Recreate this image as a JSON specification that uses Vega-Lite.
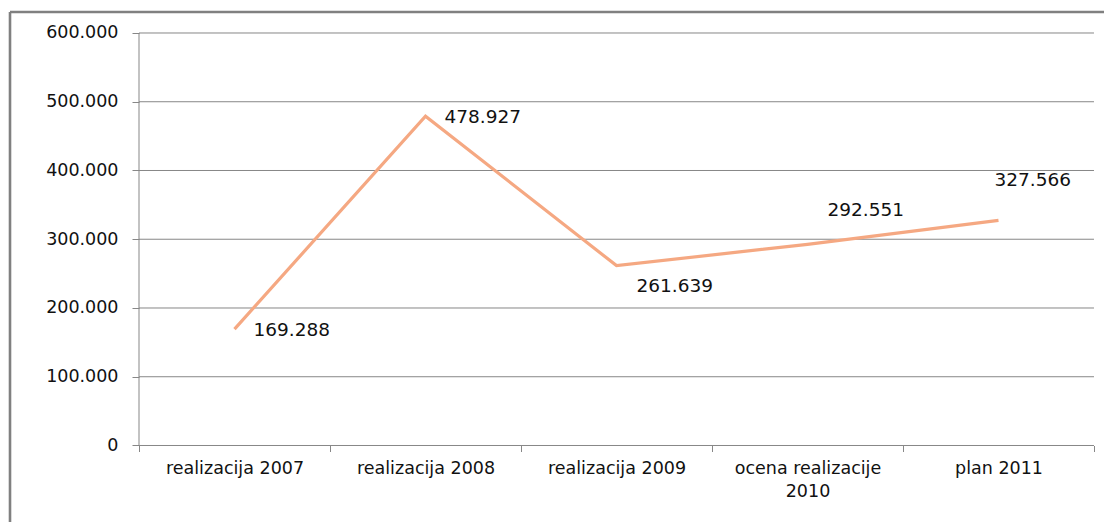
{
  "$schema": "https://vega.github.io/schema/vega-lite/v6.json",
  "width": 1094,
  "height": 510,
  "autosize": {"type": "none"},
  "padding": {"left": 10, "top": 12, "right": 0, "bottom": 0},
  "background": "white",
  "config": {
    "view": {"stroke": null},
    "font": "DejaVu Sans",
    "locale": {"number": {"decimal": ",", "thousands": ".", "grouping": [3], "currency": ["", ""]}}
  },
  "datasets": {
    "main": [
      {"kategorija": "realizacija 2007", "pos": 1, "vrednost": 169288},
      {"kategorija": "realizacija 2008", "pos": 2, "vrednost": 478927},
      {"kategorija": "realizacija 2009", "pos": 3, "vrednost": 261639},
      {"kategorija": "ocena realizacije 2010", "pos": 4, "vrednost": 292551},
      {"kategorija": "plan 2011", "pos": 5, "vrednost": 327566}
    ],
    "grid": [
      {"v": 0}, {"v": 100000}, {"v": 200000}, {"v": 300000}, {"v": 400000}, {"v": 500000}, {"v": 600000}
    ],
    "one": [{}]
  },
  "layer": [
    {
      "data": {"name": "grid"},
      "mark": {"type": "rule", "color": "#878787", "strokeWidth": 1},
      "encoding": {
        "x": {"datum": 0.5, "type": "quantitative", "title": null, "scale": {"domain": [-0.1754, 5.5524], "nice": false, "zero": false}},
        "x2": {"datum": 5.5},
        "y": {"field": "v", "type": "quantitative", "title": null, "scale": {"domain": [-111273, 630545], "nice": false, "zero": false}}
      }
    },
    {
      "data": {"name": "one"},
      "mark": {"type": "rule", "color": "#878787", "strokeWidth": 1},
      "encoding": {
        "x": {"datum": 0.5, "type": "quantitative", "title": null, "scale": {"domain": [-0.1754, 5.5524], "nice": false, "zero": false}},
        "y": {"datum": 0, "type": "quantitative", "title": null, "scale": {"domain": [-111273, 630545], "nice": false, "zero": false}},
        "y2": {"datum": 600000}
      }
    },
    {
      "data": {"name": "one"},
      "mark": {"type": "rule", "color": "#808080", "strokeWidth": 2.6},
      "encoding": {
        "x": {"datum": -0.1754, "type": "quantitative", "title": null, "scale": {"domain": [-0.1754, 5.5524], "nice": false, "zero": false}},
        "y": {"datum": -111273, "type": "quantitative", "title": null, "scale": {"domain": [-111273, 630545], "nice": false, "zero": false}},
        "y2": {"datum": 630545}
      }
    },
    {
      "data": {"name": "one"},
      "mark": {"type": "rule", "color": "#808080", "strokeWidth": 2.6},
      "encoding": {
        "x": {"datum": -0.1754, "type": "quantitative", "title": null, "scale": {"domain": [-0.1754, 5.5524], "nice": false, "zero": false}},
        "x2": {"datum": 5.5524},
        "y": {"datum": 630545, "type": "quantitative", "title": null, "scale": {"domain": [-111273, 630545], "nice": false, "zero": false}}
      }
    },
    {
      "data": {"name": "main"},
      "mark": {"type": "line", "color": "#F5A882", "strokeWidth": 3.2},
      "encoding": {
        "x": {
          "field": "pos", "type": "quantitative", "title": null,
          "scale": {"domain": [-0.1754, 5.5524], "nice": false, "zero": false},
          "axis": {
            "values": [0.5, 1, 1.5, 2, 2.5, 3, 3.5, 4, 4.5, 5, 5.5],
            "offset": -76.5,
            "domain": false,
            "grid": false,
            "tickSize": 6,
            "tickColor": "#878787",
            "tickOpacity": {"condition": {"test": "datum.value % 1 == 0", "value": 0}, "value": 1},
            "labelExpr": "datum.value == 1 ? 'realizacija 2007' : datum.value == 2 ? 'realizacija 2008' : datum.value == 3 ? 'realizacija 2009' : datum.value == 4 ? ['ocena realizacije', '2010'] : datum.value == 5 ? 'plan 2011' : ''",
            "labelFont": "DejaVu Sans",
            "labelFontSize": 17.5,
            "labelColor": "#111111",
            "labelPadding": 8,
            "labelLineHeight": 23,
            "labelOverlap": false,
            "labelFlush": false,
            "labelBound": false,
            "title": null
          }
        },
        "y": {
          "field": "vrednost", "type": "quantitative", "title": null,
          "scale": {"domain": [-111273, 630545], "nice": false, "zero": false},
          "axis": {
            "values": [0, 100000, 200000, 300000, 400000, 500000, 600000],
            "labelExpr": "replace(format(datum.value, ','), ',', '.')",
            "offset": -129,
            "domain": false,
            "grid": false,
            "tickSize": 7,
            "tickColor": "#878787",
            "labelFont": "DejaVu Sans",
            "labelFontSize": 17.5,
            "labelColor": "#111111",
            "labelPadding": 14,
            "labelOverlap": false,
            "labelFlush": false,
            "labelBound": false,
            "title": null
          }
        }
      }
    },
    {
      "data": {"name": "main"},
      "transform": [{"filter": "datum.pos <= 2"}],
      "mark": {"type": "text", "align": "left", "baseline": "middle", "dx": 19, "dy": 1, "fontSize": 18.5, "color": "#111111"},
      "encoding": {
        "x": {"field": "pos", "type": "quantitative", "title": null, "scale": {"domain": [-0.1754, 5.5524], "nice": false, "zero": false}},
        "y": {"field": "vrednost", "type": "quantitative", "title": null, "scale": {"domain": [-111273, 630545], "nice": false, "zero": false}},
        "text": {"field": "vrednost", "type": "quantitative", "format": ","}
      }
    },
    {
      "data": {"name": "main"},
      "transform": [{"filter": "datum.pos == 3"}],
      "mark": {"type": "text", "align": "left", "baseline": "middle", "dx": 20, "dy": 20, "fontSize": 18.5, "color": "#111111"},
      "encoding": {
        "x": {"field": "pos", "type": "quantitative", "title": null, "scale": {"domain": [-0.1754, 5.5524], "nice": false, "zero": false}},
        "y": {"field": "vrednost", "type": "quantitative", "title": null, "scale": {"domain": [-111273, 630545], "nice": false, "zero": false}},
        "text": {"field": "vrednost", "type": "quantitative", "format": ","}
      }
    },
    {
      "data": {"name": "main"},
      "transform": [{"filter": "datum.pos == 4"}],
      "mark": {"type": "text", "align": "left", "baseline": "middle", "dx": 20, "dy": -34, "fontSize": 18.5, "color": "#111111"},
      "encoding": {
        "x": {"field": "pos", "type": "quantitative", "title": null, "scale": {"domain": [-0.1754, 5.5524], "nice": false, "zero": false}},
        "y": {"field": "vrednost", "type": "quantitative", "title": null, "scale": {"domain": [-111273, 630545], "nice": false, "zero": false}},
        "text": {"field": "vrednost", "type": "quantitative", "format": ","}
      }
    },
    {
      "data": {"name": "main"},
      "transform": [{"filter": "datum.pos == 5"}],
      "mark": {"type": "text", "align": "left", "baseline": "middle", "dx": -4, "dy": -40, "fontSize": 18.5, "color": "#111111"},
      "encoding": {
        "x": {"field": "pos", "type": "quantitative", "title": null, "scale": {"domain": [-0.1754, 5.5524], "nice": false, "zero": false}},
        "y": {"field": "vrednost", "type": "quantitative", "title": null, "scale": {"domain": [-111273, 630545], "nice": false, "zero": false}},
        "text": {"field": "vrednost", "type": "quantitative", "format": ","}
      }
    }
  ]
}
